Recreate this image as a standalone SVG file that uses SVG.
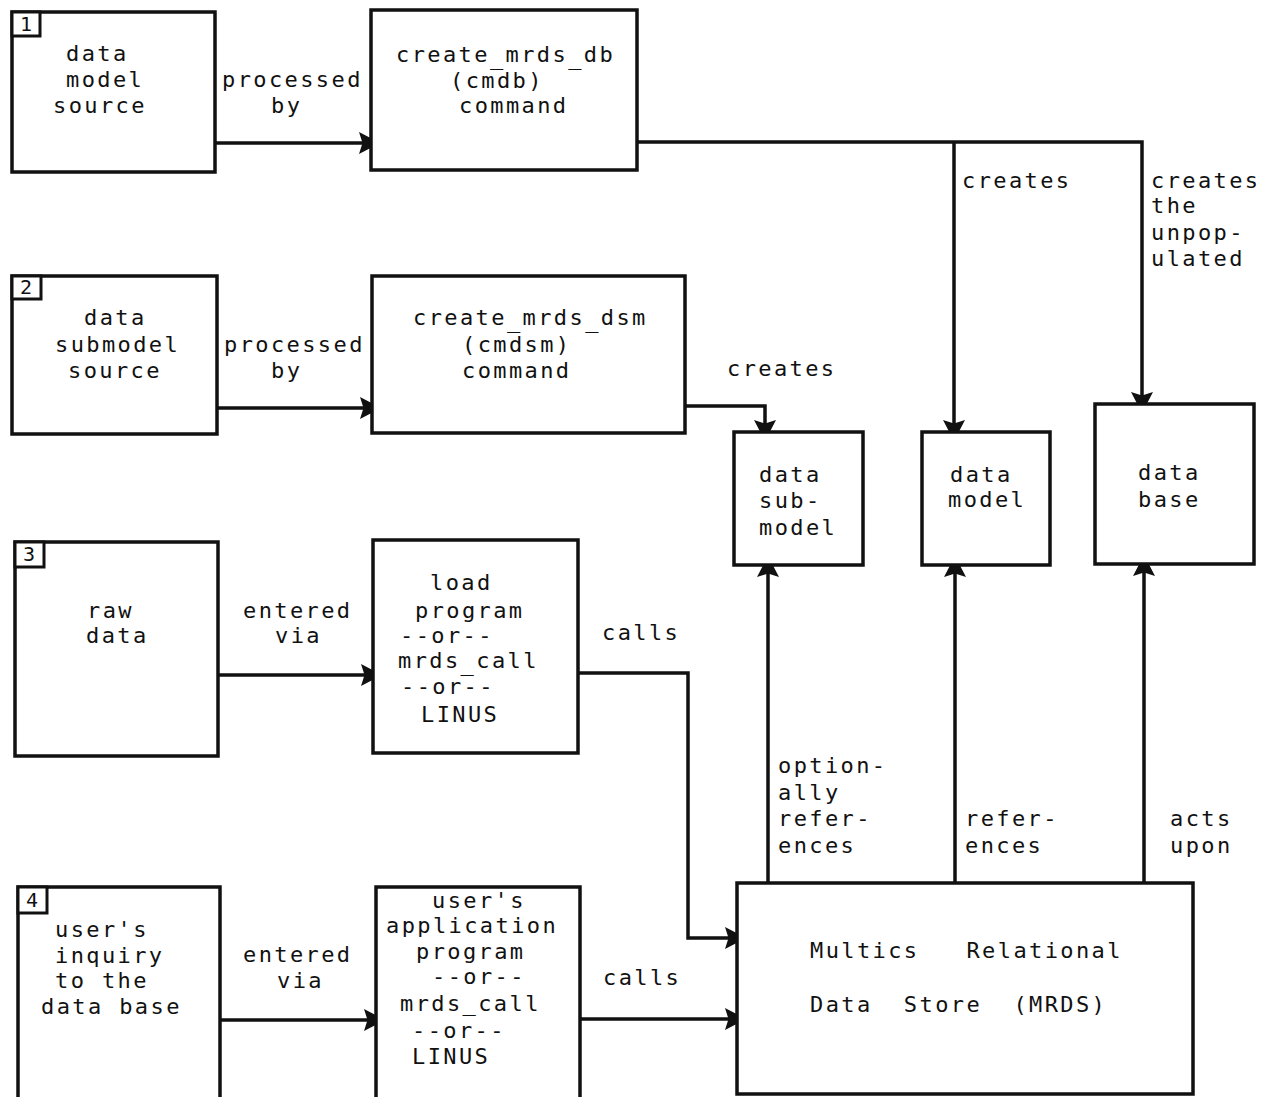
<svg xmlns="http://www.w3.org/2000/svg" width="1269" height="1097" viewBox="0 0 1269 1097">
<style>
  .bx { fill: #fff; stroke: #111; stroke-width: 3.5; }
  .nb { fill: #fff; stroke: #111; stroke-width: 3; }
  .cn { fill: none; stroke: #111; stroke-width: 3.5; marker-end: url(#ah); }
  text { font-family: "DejaVu Sans Mono", "Liberation Mono", monospace; font-size: 22px; letter-spacing: 2.4px; fill: #111; }
  .dg { font-size: 20px; letter-spacing: 0; text-anchor: middle; }
</style>
<defs>
  <marker id="ah" viewBox="-13 -12 14 24" refX="0" refY="0" markerWidth="14" markerHeight="24" markerUnits="userSpaceOnUse" orient="auto">
    <path d="M0.5,-4.5 L0.5,4.5 L-12,11 L-8.5,0 L-12,-11 Z" fill="#111"/>
  </marker>
</defs>
<rect width="1269" height="1097" fill="#fff"/>

<g id="connectors">
  <path class="cn" d="M215,143 H371"/>
  <path class="cn" d="M217,408 H372"/>
  <path class="cn" d="M218,675 H373"/>
  <path class="cn" d="M220,1020 H376"/>
  <path class="cn" d="M637,142 H1142 V404"/>
  <path class="cn" d="M954,142 V432"/>
  <path class="cn" d="M685,406 H765 V432"/>
  <path class="cn" d="M578,673 H688 V938 H737"/>
  <path class="cn" d="M580,1019 H737"/>
  <path class="cn" d="M768,883 V565"/>
  <path class="cn" d="M955,883 V565"/>
  <path class="cn" d="M1144,883 V564"/>
  <text x="222" y="87">processed</text>
  <text x="271" y="113">by</text>
  <text x="224" y="352">processed</text>
  <text x="271" y="378">by</text>
  <text x="727" y="376">creates</text>
  <text x="962" y="188">creates</text>
  <text x="1151" y="188">creates</text>
  <text x="1151" y="213">the</text>
  <text x="1151" y="240">unpop-</text>
  <text x="1151" y="266">ulated</text>
  <text x="243" y="618">entered</text>
  <text x="275" y="643">via</text>
  <text x="602" y="640">calls</text>
  <text x="778" y="773">option-</text>
  <text x="778" y="800">ally</text>
  <text x="778" y="826">refer-</text>
  <text x="778" y="853">ences</text>
  <text x="965" y="826">refer-</text>
  <text x="965" y="853">ences</text>
  <text x="1170" y="826">acts</text>
  <text x="1170" y="853">upon</text>
  <text x="243" y="962">entered</text>
  <text x="277" y="988">via</text>
  <text x="603" y="985">calls</text>
</g>

<g id="n1">
  <rect class="bx" x="12" y="12" width="203" height="160"/>
  <rect class="nb" x="12" y="12" width="28" height="24"/>
  <text class="dg" x="26" y="31">1</text>
  <text x="66" y="61">data</text>
  <text x="66" y="87">model</text>
  <text x="53" y="113">source</text>
</g>
<g id="n-cmdb">
  <rect class="bx" x="371" y="10" width="266" height="160"/>
  <text x="396" y="62">create<tspan dy="3">_</tspan><tspan dy="-3">mrds</tspan><tspan dy="3">_</tspan><tspan dy="-3">db</tspan></text>
  <text x="450" y="88">(cmdb)</text>
  <text x="459" y="113">command</text>
</g>
<g id="n2">
  <rect class="bx" x="12" y="276" width="205" height="158"/>
  <rect class="nb" x="12" y="276" width="29" height="23"/>
  <text class="dg" x="26" y="294">2</text>
  <text x="84" y="325">data</text>
  <text x="55" y="352">submodel</text>
  <text x="68" y="378">source</text>
</g>
<g id="n-cmdsm">
  <rect class="bx" x="372" y="276" width="313" height="157"/>
  <text x="413" y="325">create<tspan dy="3">_</tspan><tspan dy="-3">mrds</tspan><tspan dy="3">_</tspan><tspan dy="-3">dsm</tspan></text>
  <text x="462" y="352">(cmdsm)</text>
  <text x="462" y="378">command</text>
</g>
<g id="n-submodel">
  <rect class="bx" x="734" y="432" width="129" height="133"/>
  <text x="759" y="482">data</text>
  <text x="759" y="508">sub-</text>
  <text x="759" y="535">model</text>
</g>
<g id="n-model">
  <rect class="bx" x="922" y="432" width="128" height="133"/>
  <text x="950" y="482">data</text>
  <text x="948" y="507">model</text>
</g>
<g id="n-database">
  <rect class="bx" x="1095" y="404" width="159" height="160"/>
  <text x="1138" y="480">data</text>
  <text x="1138" y="507">base</text>
</g>
<g id="n3">
  <rect class="bx" x="15" y="542" width="203" height="214"/>
  <rect class="nb" x="15" y="542" width="29" height="25"/>
  <text class="dg" x="29" y="561">3</text>
  <text x="87" y="618">raw</text>
  <text x="86" y="643">data</text>
</g>
<g id="n-load">
  <rect class="bx" x="373" y="540" width="205" height="213"/>
  <text x="430" y="590">load</text>
  <text x="415" y="618">program</text>
  <text x="400" y="643">--or--</text>
  <text x="398" y="668">mrds<tspan dy="3">_</tspan><tspan dy="-3">call</tspan></text>
  <text x="401" y="694">--or--</text>
  <text x="421" y="722">LINUS</text>
</g>
<g id="n4">
  <rect class="bx" x="18" y="887" width="202" height="230"/>
  <rect class="nb" x="18" y="887" width="29" height="26"/>
  <text class="dg" x="32" y="907">4</text>
  <text x="55" y="937">user's</text>
  <text x="55" y="963">inquiry</text>
  <text x="55" y="988">to the</text>
  <text x="41" y="1014">data base</text>
</g>
<g id="n-app">
  <rect class="bx" x="376" y="887" width="204" height="230"/>
  <text x="432" y="908">user's</text>
  <text x="386" y="933">application</text>
  <text x="416" y="959">program</text>
  <text x="432" y="984">--or--</text>
  <text x="400" y="1011">mrds_call</text>
  <text x="412" y="1038">--or--</text>
  <text x="412" y="1064">LINUS</text>
</g>
<g id="n-mrds">
  <rect class="bx" x="737" y="883" width="456" height="211"/>
  <text x="810" y="958" xml:space="preserve">Multics   Relational</text>
  <text x="810" y="1012" xml:space="preserve">Data  Store  (MRDS)</text>
</g>
</svg>
